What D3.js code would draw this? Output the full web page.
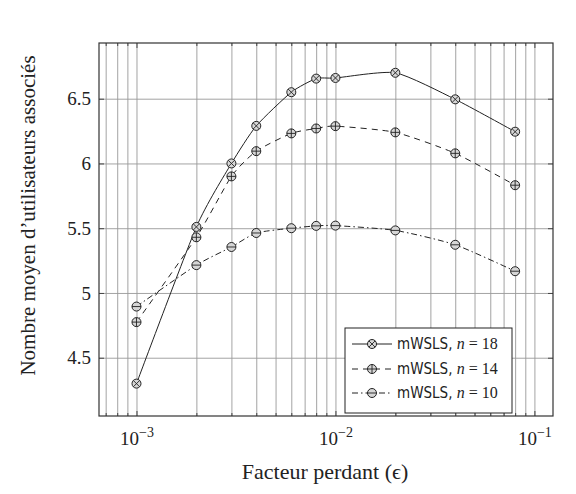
<!DOCTYPE html>
<html><head><meta charset="utf-8">
<script src="https://cdn.jsdelivr.net/npm/d3@7"></script>
<style>
body{margin:0;background:#fff;}
svg{display:block;}
</style></head>
<body><svg id="c" width="576" height="494"></svg>
<script>
const eps = [0.001, 0.002, 0.003, 0.004, 0.006, 0.008, 0.01, 0.02, 0.04, 0.08];
const n18 = [4.30, 5.51, 6.00, 6.29, 6.55, 6.655, 6.66, 6.70, 6.495, 6.245];
const n14 = [4.775, 5.43, 5.90, 6.095, 6.232, 6.27, 6.288, 6.24, 6.078, 5.832];
const n10 = [4.895, 5.215, 5.355, 5.463, 5.50, 5.518, 5.52, 5.483, 5.372, 5.168];
const seriesNames = ["mWSLS, n = 18", "mWSLS, n = 14", "mWSLS, n = 10"];
const yTicks = [4.5, 5, 5.5, 6, 6.5];
const xMajor = [1e-3, 1e-2, 1e-1];
const xMinor = [7e-4,8e-4,9e-4,2e-3,3e-3,4e-3,5e-3,6e-3,7e-3,8e-3,9e-3,2e-2,3e-2,4e-2,5e-2,6e-2,7e-2,8e-2,9e-2];
const xLabel = "Facteur perdant (ϵ)";
const yLabel = "Nombre moyen d’utilisateurs associés";

const L=99, R=553, T=43, B=416;
const svg = d3.select("#c");
const x = d3.scaleLog().domain([6.48e-4, 0.124]).range([L, R]);
const y = d3.scaleLinear().domain([4.05, 6.93]).range([B, T]);
const serif = "'Liberation Serif', 'DejaVu Serif', serif";
const gridCol = "#999";

// grids
const gx = svg.append("g").attr("transform",`translate(0,${B})`)
  .call(d3.axisBottom(x).tickValues(xMajor.concat(xMinor)).tickSize(-(B-T)).tickFormat(""));
gx.select(".domain").remove();
gx.selectAll("line").attr("stroke",gridCol).attr("stroke-width",0.9);
const gy = svg.append("g").attr("transform",`translate(${L},0)`)
  .call(d3.axisLeft(y).tickValues(yTicks).tickSize(-(R-L)).tickFormat(""));
gy.select(".domain").remove();
gy.selectAll("line").attr("stroke",gridCol).attr("stroke-width",0.9);

// inner tick marks
[[B,d3.axisTop],[T,d3.axisBottom]].forEach(([p,ax])=>{
  const g=svg.append("g").attr("transform",`translate(0,${p})`).call(ax(x).tickValues(xMajor).tickSize(5).tickFormat(""));
  g.select(".domain").remove(); g.selectAll("line").attr("stroke","#444");
  const g2=svg.append("g").attr("transform",`translate(0,${p})`).call(ax(x).tickValues(xMinor).tickSize(3).tickFormat(""));
  g2.select(".domain").remove(); g2.selectAll("line").attr("stroke","#444");
});
[[L,d3.axisRight],[R,d3.axisLeft]].forEach(([p,ax])=>{
  const g=svg.append("g").attr("transform",`translate(${p},0)`).call(ax(y).tickValues(yTicks).tickSize(5).tickFormat(""));
  g.select(".domain").remove(); g.selectAll("line").attr("stroke","#444");
});

// frame
svg.append("rect").attr("x",L).attr("y",T).attr("width",R-L).attr("height",B-T)
  .attr("fill","none").attr("stroke","#333").attr("stroke-width",1.2);

// tick labels
const xl = svg.append("g").attr("transform",`translate(0,${B})`)
  .call(d3.axisBottom(x).tickValues(xMajor).tickSize(0).tickPadding(16).tickFormat(""));
xl.select(".domain").remove();
xl.selectAll("text").attr("font-family",serif).attr("font-size",19).attr("fill","#222")
  .each(function(d){
    const t=d3.select(this);
    t.append("tspan").text("10");
    t.append("tspan").attr("dy",-8).attr("font-size",14).text("−"+Math.round(-Math.log10(d)));
  });
const yl = svg.append("g").attr("transform",`translate(${L},0)`)
  .call(d3.axisLeft(y).tickValues(yTicks).tickSize(0).tickPadding(8).tickFormat(d=>String(d)));
yl.select(".domain").remove();
yl.selectAll("text").attr("font-family",serif).attr("font-size",19).attr("fill","#222");

// axis titles
svg.append("text").attr("x",(L+R)/2-1).attr("y",479).attr("text-anchor","middle")
  .attr("font-family",serif).attr("font-size",22).attr("fill","#222").text(xLabel);
svg.append("text").attr("transform",`translate(35,${(T+B)/2-14}) rotate(-90)`).attr("text-anchor","middle")
  .attr("font-family",serif).attr("font-size",21).attr("fill","#222").text(yLabel);

// series
const series = [
  {vals:n18, dash:null, mark:"x"},
  {vals:n14, dash:"6,5", mark:"+"},
  {vals:n10, dash:"6,3,1.5,3", mark:"-"}
];
const line = d3.line().x(d=>x(d[0])).y(d=>y(d[1])).curve(d3.curveCardinal.tension(0.4));
const r=4.5;
function drawMarker(g, cx, cy, type){
  const m=g.append("g").attr("transform",`translate(${cx},${cy})`);
  m.append("circle").attr("r",r).attr("fill","#d6d6d6").attr("stroke","#222").attr("stroke-width",1);
  const k=r*0.707;
  if(type==="x"){
    m.append("line").attr("x1",-k).attr("y1",-k).attr("x2",k).attr("y2",k).attr("stroke","#222").attr("stroke-width",0.9);
    m.append("line").attr("x1",-k).attr("y1",k).attr("x2",k).attr("y2",-k).attr("stroke","#222").attr("stroke-width",0.9);
  } else if(type==="+"){
    m.append("line").attr("x1",-r).attr("y1",0).attr("x2",r).attr("y2",0).attr("stroke","#222").attr("stroke-width",0.9);
    m.append("line").attr("x1",0).attr("y1",-r).attr("x2",0).attr("y2",r).attr("stroke","#222").attr("stroke-width",0.9);
  } else {
    m.append("line").attr("x1",-r).attr("y1",0).attr("x2",r).attr("y2",0).attr("stroke","#222").attr("stroke-width",0.9);
  }
}
series.forEach(s=>{
  const pts = eps.map((e,i)=>[e,s.vals[i]]);
  svg.append("path").attr("d",line(pts)).attr("fill","none").attr("stroke","#222")
    .attr("stroke-width",1).attr("stroke-dasharray",s.dash);
  const g=svg.append("g");
  pts.forEach(p=>drawMarker(g,x(p[0]),y(p[1]),s.mark));
});

// legend
const lg = svg.append("g");
lg.append("rect").attr("x",345).attr("y",328).attr("width",167).attr("height",85)
  .attr("fill","#fff").attr("stroke","#222").attr("stroke-width",1);
const rowsY=[344,369,393];
series.forEach((s,i)=>{
  const yy=rowsY[i];
  lg.append("line").attr("x1",352).attr("x2",392).attr("y1",yy).attr("y2",yy)
    .attr("stroke","#222").attr("stroke-width",1).attr("stroke-dasharray",s.dash);
  drawMarker(lg,372,yy,s.mark);
  const parts = seriesNames[i].split("n");
  const t=lg.append("text").attr("x",397).attr("y",yy+5).attr("font-size",15).attr("fill","#222")
    .attr("font-family","'DejaVu Sans Condensed','DejaVu Sans',sans-serif").attr("font-stretch","condensed");
  t.append("tspan").text(parts[0]);
  t.append("tspan").attr("font-family",serif).attr("font-style","italic").attr("font-size",16).text("n");
  t.append("tspan").attr("font-family",serif).attr("font-size",16).text(parts[1]);
});
</script></body></html>
